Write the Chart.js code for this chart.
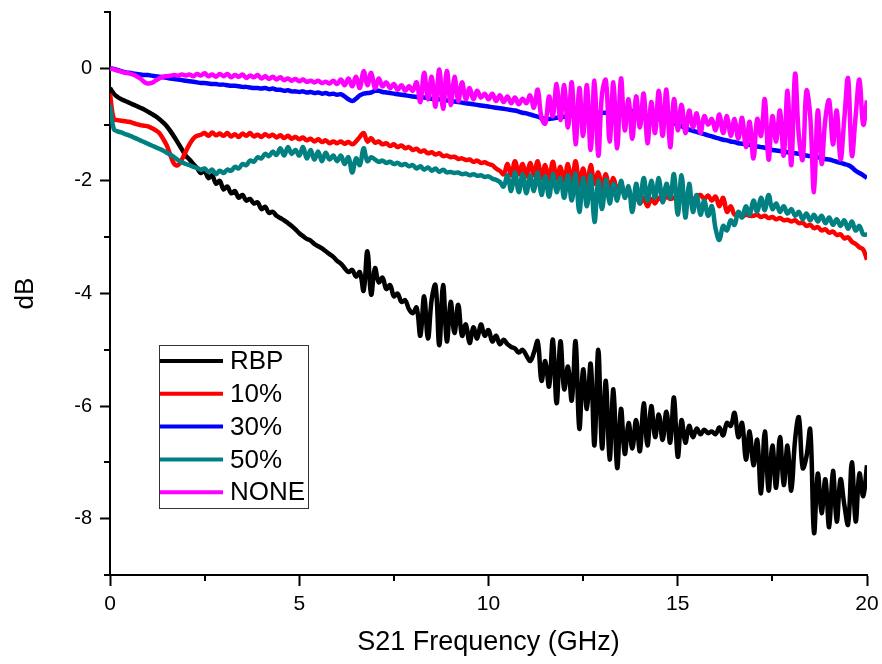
<!DOCTYPE html>
<html>
<head>
<meta charset="utf-8">
<script src="https://cdn.jsdelivr.net/npm/chart.js@4.4.1/dist/chart.umd.min.js"></script>
<style>
  html, body { margin: 0; padding: 0; background: #fff; }
  #wrap { width: 882px; height: 664px; }
</style>
</head>
<body>
<div id="wrap"><canvas id="chart" width="882" height="664"></canvas></div>
<script>
// sampling grid: 0 to 20 GHz, 0.1 GHz apart
const FREQ = Array.from({ length: 201 }, (_, i) => +(i * 0.1).toFixed(1));

const SERIES_NAMES = ['RBP', '10%', '30%', '50%', 'NONE'];
const SERIES_COLORS = ['#000000', '#ff0000', '#0000ff', '#008080', '#ff00ff'];

const RBP = [
  -0.35, -0.45, -0.51, -0.55, -0.58, -0.61, -0.64, -0.67, -0.70, -0.73,
  -0.77, -0.81, -0.85, -0.90, -0.96, -1.03, -1.12, -1.22, -1.33, -1.44,
  -1.55, -1.62, -1.70, -1.77, -1.86, -1.82, -1.95, -1.90, -2.05, -2.00,
  -2.15, -2.10, -2.22, -2.18, -2.30, -2.25, -2.35, -2.32, -2.40, -2.38,
  -2.50, -2.46, -2.57, -2.55, -2.62, -2.66, -2.70, -2.75, -2.80, -2.86,
  -2.93, -2.98, -3.03, -3.06, -3.12, -3.16, -3.20, -3.25, -3.30, -3.35,
  -3.42, -3.47, -3.55, -3.62, -3.58, -3.70, -3.62, -3.95, -3.25, -4.02,
  -3.55, -3.80, -3.72, -3.92, -3.85, -4.05, -4.00, -4.15, -4.12, -4.28,
  -4.35, -4.25, -4.75, -4.05, -4.80, -4.10, -3.85, -4.92, -3.85, -4.85,
  -4.15, -4.70, -4.20, -4.75, -4.55, -4.88, -4.60, -4.80, -4.55, -4.75,
  -4.65, -4.85, -4.75, -4.90, -4.82, -4.90, -4.95, -4.98, -5.05, -5.00,
  -5.10, -5.20, -5.05, -4.85, -5.55, -5.20, -5.65, -4.82, -5.95, -4.85,
  -5.70, -5.30, -5.90, -4.85, -6.40, -5.35, -6.05, -5.25, -6.70, -5.00,
  -6.75, -5.55, -6.95, -5.70, -7.10, -6.05, -6.85, -6.30, -6.75, -6.25,
  -6.80, -5.95, -6.70, -6.00, -6.55, -6.15, -6.60, -6.10, -6.65, -5.85,
  -6.90, -6.25, -6.65, -6.35, -6.55, -6.40, -6.50, -6.42, -6.48, -6.45,
  -6.50, -6.38, -6.52, -6.30, -6.35, -6.12, -6.55, -6.30, -6.95, -6.45,
  -7.05, -6.60, -7.55, -6.45, -7.50, -6.70, -7.45, -6.55, -7.40, -6.70,
  -7.50, -6.60, -6.20, -7.10, -6.90, -6.42, -8.25, -7.20, -7.90, -7.30,
  -8.15, -7.15, -8.05, -7.30, -7.75, -8.10, -7.00, -8.05, -7.20, -7.60,
  -7.05
];

const P10 = [
  -0.45, -0.90, -0.92, -0.93, -0.94, -0.95, -0.97, -0.99, -1.01, -1.02,
  -1.03, -1.06, -1.10, -1.15, -1.25, -1.37, -1.55, -1.70, -1.72, -1.62,
  -1.48, -1.35, -1.25, -1.20, -1.18, -1.15, -1.20, -1.14, -1.19, -1.16,
  -1.20, -1.15, -1.21, -1.17, -1.22, -1.16, -1.20, -1.15, -1.21, -1.18,
  -1.22, -1.17, -1.21, -1.18, -1.23, -1.19, -1.24, -1.20, -1.25, -1.22,
  -1.26, -1.23, -1.28, -1.25, -1.30, -1.26, -1.31, -1.28, -1.33, -1.30,
  -1.33, -1.30, -1.34, -1.31, -1.35, -1.30, -1.22, -1.15, -1.30, -1.24,
  -1.32, -1.30, -1.35, -1.33, -1.38, -1.35, -1.40, -1.37, -1.42, -1.40,
  -1.45, -1.43, -1.48, -1.46, -1.51, -1.49, -1.53, -1.51, -1.56, -1.55,
  -1.58, -1.57, -1.61, -1.60, -1.63, -1.62, -1.66, -1.64, -1.68, -1.67,
  -1.70, -1.72, -1.78, -1.82, -1.88, -1.70, -1.90, -1.65, -1.88, -1.70,
  -1.92, -1.68, -1.90, -1.65, -1.95, -1.72, -1.98, -1.66, -1.96, -1.75,
  -2.00, -1.70, -2.05, -1.65, -2.08, -1.78, -2.10, -1.72, -2.05, -1.85,
  -2.12, -1.88, -2.15, -1.95, -2.18, -2.05, -2.25, -2.15, -2.35, -2.25,
  -2.40, -2.30, -2.45, -2.32, -2.40, -2.30, -2.35, -2.28, -2.32, -2.30,
  -2.30, -2.28, -2.32, -2.27, -2.33, -2.28, -2.25, -2.32, -2.26, -2.35,
  -2.28, -2.45, -2.30, -2.55, -2.45, -2.60, -2.58, -2.63, -2.60, -2.62,
  -2.62, -2.60, -2.64, -2.62, -2.66, -2.64, -2.68, -2.66, -2.70, -2.69,
  -2.72, -2.70, -2.75, -2.74, -2.80, -2.78, -2.84, -2.82, -2.88, -2.86,
  -2.92, -2.90, -2.96, -2.95, -3.02, -3.00, -3.08, -3.12, -3.18, -3.22,
  -3.40
];

const P30 = [
   0.00, -0.01, -0.03, -0.05, -0.07, -0.08, -0.09, -0.10, -0.11, -0.12,
  -0.12, -0.13, -0.14, -0.15, -0.16, -0.17, -0.18, -0.19, -0.20, -0.21,
  -0.22, -0.23, -0.24, -0.25, -0.26, -0.26, -0.27, -0.28, -0.28, -0.29,
  -0.29, -0.30, -0.31, -0.31, -0.32, -0.33, -0.33, -0.34, -0.35, -0.35,
  -0.36, -0.35, -0.37, -0.36, -0.38, -0.38, -0.40, -0.39, -0.41, -0.41,
  -0.42, -0.41, -0.43, -0.42, -0.44, -0.43, -0.45, -0.44, -0.46, -0.45,
  -0.47, -0.46, -0.50, -0.55, -0.58, -0.54, -0.48, -0.45, -0.44, -0.43,
  -0.40, -0.40, -0.42, -0.43, -0.44, -0.45, -0.46, -0.47, -0.48, -0.49,
  -0.50, -0.51, -0.52, -0.52, -0.53, -0.54, -0.55, -0.55, -0.56, -0.57,
  -0.58, -0.59, -0.60, -0.61, -0.62, -0.63, -0.64, -0.65, -0.66, -0.67,
  -0.68, -0.69, -0.70, -0.71, -0.72, -0.73, -0.74, -0.75, -0.77, -0.79,
  -0.80, -0.82, -0.84, -0.86, -0.88, -0.90, -0.90, -0.89, -0.88, -0.87,
  -0.86, -0.85, -0.84, -0.84, -0.83, -0.82, -0.82, -0.81, -0.80, -0.80,
  -0.79, -0.79, -0.78, -0.78, -0.77, -0.77, -0.76, -0.76, -0.76, -0.77,
  -0.80, -0.82, -0.84, -0.86, -0.88, -0.90, -0.92, -0.94, -0.96, -0.98,
  -1.00, -1.03, -1.06, -1.09, -1.11, -1.13, -1.15, -1.17, -1.19, -1.21,
  -1.23, -1.25, -1.27, -1.28, -1.30, -1.31, -1.33, -1.34, -1.35, -1.36,
  -1.38, -1.39, -1.40, -1.41, -1.43, -1.45, -1.46, -1.47, -1.48, -1.49,
  -1.50, -1.51, -1.52, -1.53, -1.55, -1.56, -1.57, -1.58, -1.59, -1.61,
  -1.62, -1.64, -1.66, -1.68, -1.70, -1.72, -1.76, -1.82, -1.86, -1.90,
  -1.95
];

const P50 = [
  -0.65, -1.08, -1.12, -1.14, -1.17, -1.19, -1.22, -1.25, -1.28, -1.31,
  -1.34, -1.37, -1.40, -1.43, -1.46, -1.50, -1.54, -1.58, -1.63, -1.67,
  -1.70, -1.72, -1.75, -1.77, -1.80, -1.78, -1.84, -1.80, -1.88, -1.82,
  -1.86, -1.80, -1.82, -1.75, -1.78, -1.70, -1.72, -1.64, -1.66, -1.58,
  -1.60, -1.52, -1.56, -1.48, -1.54, -1.42, -1.55, -1.40, -1.52, -1.45,
  -1.55, -1.40, -1.60, -1.45, -1.62, -1.48, -1.65, -1.50, -1.62, -1.55,
  -1.65, -1.55, -1.70, -1.58, -1.85, -1.60, -1.72, -1.42, -1.65, -1.58,
  -1.62, -1.66, -1.64, -1.68, -1.66, -1.70, -1.68, -1.72, -1.70, -1.74,
  -1.72, -1.78, -1.74, -1.80, -1.76, -1.82, -1.78, -1.84, -1.80, -1.85,
  -1.84, -1.86, -1.85, -1.88, -1.87, -1.90, -1.88, -1.91, -1.90, -1.93,
  -1.92, -1.96, -1.98, -2.02, -2.10, -1.90, -2.18, -1.85, -2.20, -1.88,
  -2.22, -1.90, -2.18, -1.85, -2.25, -1.92, -2.28, -1.88, -2.20, -1.95,
  -2.30, -1.90, -2.35, -1.88, -2.55, -1.95, -2.45, -1.90, -2.73, -2.00,
  -2.50, -1.98, -2.40, -2.05, -2.35, -2.00, -2.30, -2.10, -2.55, -2.05,
  -2.40, -1.95, -2.35, -2.00, -2.30, -1.95, -2.38, -2.05, -2.30, -1.88,
  -2.60, -1.90, -2.65, -2.05, -2.55, -2.25, -2.60, -2.35, -2.62, -2.45,
  -2.85, -3.05, -2.80, -2.88, -2.70, -2.78, -2.55, -2.65, -2.45, -2.60,
  -2.35, -2.55, -2.30, -2.52, -2.25, -2.50, -2.40, -2.55, -2.45, -2.58,
  -2.50, -2.62, -2.55, -2.68, -2.58, -2.70, -2.60, -2.72, -2.62, -2.75,
  -2.65, -2.78, -2.68, -2.80, -2.70, -2.85, -2.72, -2.88, -2.80, -2.95,
  -2.95
];

const NONE = [
   0.00, -0.02, -0.04, -0.06, -0.08, -0.09, -0.11, -0.14, -0.18, -0.24,
  -0.27, -0.26, -0.22, -0.18, -0.15, -0.14, -0.13, -0.12, -0.13, -0.11,
  -0.13, -0.11, -0.14, -0.10, -0.13, -0.09, -0.14, -0.11, -0.15, -0.10,
  -0.14, -0.10, -0.16, -0.12, -0.15, -0.11, -0.17, -0.13, -0.16, -0.12,
  -0.18, -0.14, -0.19, -0.15, -0.20, -0.16, -0.21, -0.18, -0.22, -0.19,
  -0.23, -0.20, -0.24, -0.22, -0.25, -0.22, -0.26, -0.24, -0.27, -0.22,
  -0.28, -0.20, -0.30, -0.18, -0.32, -0.15, -0.35, -0.05, -0.30, -0.08,
  -0.35, -0.18, -0.32, -0.25, -0.35, -0.28, -0.38, -0.30, -0.40, -0.32,
  -0.40, -0.25, -0.60, -0.08, -0.55, -0.15, -0.68, -0.02, -0.72, -0.05,
  -0.65, -0.15, -0.58, -0.25, -0.55, -0.35, -0.55, -0.40, -0.52, -0.45,
  -0.55, -0.45, -0.58, -0.48, -0.60, -0.50, -0.62, -0.52, -0.64, -0.54,
  -0.62, -0.48, -0.70, -0.38, -0.88, -0.98, -0.50, -0.85, -0.28, -0.92,
  -0.30, -1.05, -0.25, -1.35, -0.35, -1.20, -0.30, -1.45, -0.22, -1.55,
  -0.45, -0.21, -1.30, -0.25, -1.42, -0.18, -1.10, -0.55, -1.25, -0.50,
  -1.05, -0.45, -1.33, -0.60, -1.15, -0.40, -1.20, -0.38, -1.40, -0.55,
  -1.10, -0.65, -1.15, -0.75, -1.05, -0.80, -1.15, -0.85, -1.00, -0.90,
  -1.10, -0.82, -1.15, -0.85, -1.20, -0.90, -1.25, -0.88, -1.40, -0.95,
  -1.60, -0.90, -1.20, -0.55, -1.62, -0.85, -1.30, -0.75, -1.55, -0.40,
  -1.72, -0.10, -1.20, -1.62, -0.40, -0.85, -2.20, -0.75, -1.70, -0.90,
  -0.57, -1.35, -0.75, -1.62, -0.90, -0.18, -1.55, -0.85, -0.20, -1.00,
  -0.57
];

const X_TICK_LABELS = [0, 5, 10, 15, 20];
const Y_TICK_LABELS = [0, -2, -4, -6, -8];
const X_MINOR_TICKS = [2.5, 7.5, 12.5, 17.5];
const Y_MINOR_TICKS = [1, -1, -3, -5, -7, -9];

const SERIES = [RBP, P10, P30, P50, NONE];
const FONT = '"Liberation Sans", Arial, sans-serif';

const datasets = SERIES.map(function(vals, i) {
  return {
    label: SERIES_NAMES[i],
    data: vals.map(function(v, j) { return { x: FREQ[j], y: v }; }),
    borderColor: SERIES_COLORS[i],
    backgroundColor: SERIES_COLORS[i],
    borderWidth: 4.5,
    pointRadius: 0,
    tension: 0.4,
    fill: false,
    order: SERIES.length - i
  };
});

// short minor ticks, and the legend box inside the plot
const axisExtras = {
  id: 'axisExtras',
  afterDraw(chart) {
    const ctx = chart.ctx;
    const xs = chart.scales.x, ys = chart.scales.y;
    const a = chart.chartArea;
    ctx.save();
    ctx.strokeStyle = '#000';
    ctx.lineWidth = 2;
    ctx.beginPath();
    X_MINOR_TICKS.forEach(function(v) {
      const px = Math.round(xs.getPixelForValue(v));
      ctx.moveTo(px, a.bottom);
      ctx.lineTo(px, a.bottom + 6);
    });
    Y_MINOR_TICKS.forEach(function(v) {
      const py = Math.round(ys.getPixelForValue(v));
      ctx.moveTo(a.left, py);
      ctx.lineTo(a.left - 6, py);
    });
    ctx.stroke();

    const bx = a.left + 49, by = a.top + 333, bw = 149, bh = 163;
    ctx.fillStyle = '#fff';
    ctx.fillRect(bx, by, bw, bh);
    ctx.strokeStyle = '#333';
    ctx.lineWidth = 1;
    ctx.strokeRect(bx + 0.5, by + 0.5, bw, bh);
    ctx.font = '26px ' + FONT;
    ctx.textBaseline = 'middle';
    ctx.textAlign = 'left';
    chart.data.datasets.forEach(function(ds, i) {
      const y = by + 16 + i * 32.8;
      ctx.strokeStyle = ds.borderColor;
      ctx.lineWidth = 4;
      ctx.beginPath();
      ctx.moveTo(bx + 1, y);
      ctx.lineTo(bx + 64, y);
      ctx.stroke();
      ctx.fillStyle = '#000';
      ctx.fillText(ds.label, bx + 71, y + 1);
    });
    ctx.restore();
  }
};

new Chart(document.getElementById('chart'), {
  type: 'line',
  data: { datasets: datasets },
  plugins: [axisExtras],
  options: {
    responsive: false,
    animation: false,
    events: [],
    layout: { padding: { left: 0, right: 15, top: 12, bottom: 0 } },
    plugins: { legend: { display: false }, tooltip: { enabled: false } },
    scales: {
      x: {
        type: 'linear',
        min: 0,
        max: 20,
        afterBuildTicks: function(s) { s.ticks = X_TICK_LABELS.map(function(v) { return { value: v }; }); },
        afterFit: function(s) { s.height = 89; s.paddingLeft = 0; s.paddingRight = 0; },
        ticks: {
          color: '#000',
          padding: 6,
          maxRotation: 0,
          autoSkip: false,
          font: { family: FONT, size: 21 },
          callback: function(v) { return String(v); }
        },
        grid: { drawOnChartArea: false, drawTicks: true, tickLength: 11, tickColor: '#000', tickWidth: 2 },
        border: { display: true, color: '#000', width: 2 },
        title: { display: true, text: 'S21 Frequency (GHz)', color: '#000', font: { family: FONT, size: 27 }, padding: { top: 0, bottom: 5 } }
      },
      y: {
        min: -9,
        max: 1,
        afterBuildTicks: function(s) { s.ticks = Y_TICK_LABELS.map(function(v) { return { value: v }; }); },
        afterFit: function(s) { s.width = 110; s.paddingTop = 0; s.paddingBottom = 0; },
        ticks: {
          color: '#000',
          padding: 8,
          autoSkip: false,
          font: { family: FONT, size: 20 },
          callback: function(v) { return String(v); }
        },
        grid: { drawOnChartArea: false, drawTicks: true, tickLength: 10, tickColor: '#000', tickWidth: 2 },
        border: { display: true, color: '#000', width: 2 },
        title: { display: true, text: 'dB', color: '#000', font: { family: FONT, size: 26 }, padding: { top: 10, bottom: 0 } }
      }
    }
  }
});
</script>
</body>
</html>
